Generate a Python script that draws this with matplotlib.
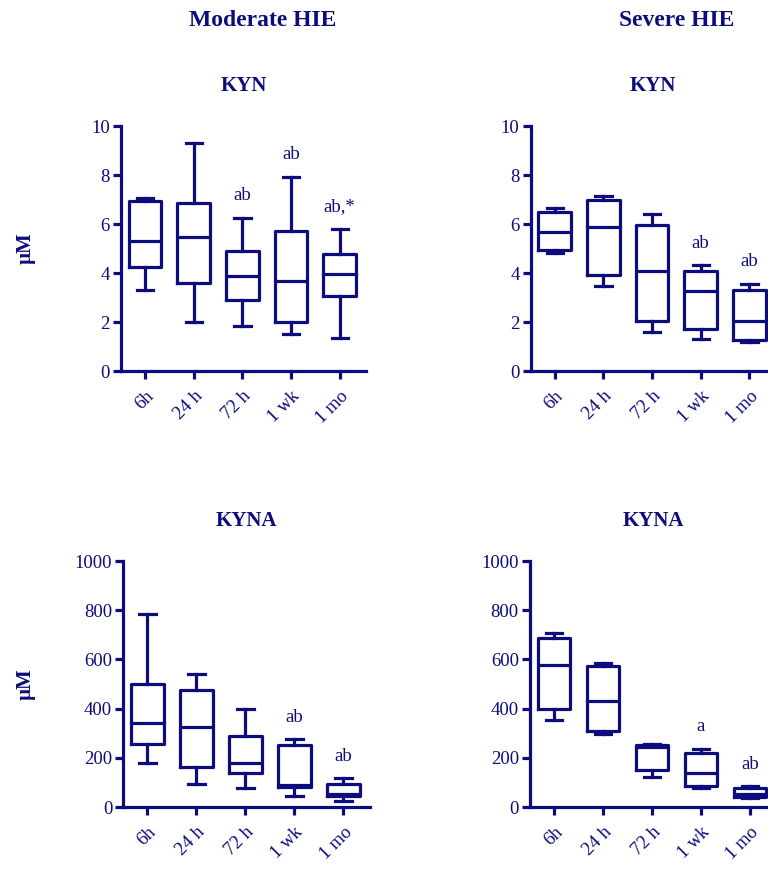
import matplotlib
matplotlib.use("Agg")
import matplotlib.pyplot as plt

plt.rcParams['font.family'] = ['Liberation Serif', 'DejaVu Serif']

NAVY = '#0c0c7c'

timepoints = ["6h", "24 h", "72 h", "1 wk", "1 mo"]

# KYN (µM), moderate HIE: min, Q1, median, Q3, max
kyn_mod_min = [3.29, 2.00, 1.82, 1.51, 1.33]
kyn_mod_q1 = [4.23, 3.61, 2.89, 2.01, 3.07]
kyn_mod_med = [5.30, 5.46, 3.87, 3.67, 3.98]
kyn_mod_q3 = [6.94, 6.85, 4.90, 5.72, 4.78]
kyn_mod_max = [7.08, 9.32, 6.26, 7.93, 5.80]
kyn_mod_sig = ["", "", "ab", "ab", "ab,*"]

# KYN (µM), severe HIE
kyn_sev_min = [4.80, 3.45, 1.58, 1.29, 1.18]
kyn_sev_q1 = [4.96, 3.91, 2.04, 1.73, 1.26]
kyn_sev_med = [5.69, 5.87, 4.10, 3.25, 2.04]
kyn_sev_q3 = [6.48, 6.97, 5.98, 4.09, 3.30]
kyn_sev_max = [6.67, 7.16, 6.40, 4.32, 3.55]
kyn_sev_sig = ["", "", "", "ab", "ab"]

# KYNA, moderate HIE
kyna_mod_min = [179, 93, 76, 43, 24]
kyna_mod_q1 = [257, 164, 138, 80, 45]
kyna_mod_med = [341, 324, 178, 88, 53]
kyna_mod_q3 = [501, 476, 289, 251, 92]
kyna_mod_max = [783, 539, 397, 275, 117]
kyna_mod_sig = ["", "", "", "ab", "ab"]

# KYNA, severe HIE
kyna_sev_min = [352, 298, 121, 79, 37]
kyna_sev_q1 = [398, 308, 150, 87, 39]
kyna_sev_med = [576, 430, 245, 137, 53]
kyna_sev_q3 = [686, 572, 254, 221, 76]
kyna_sev_max = [706, 585, 258, 238, 85]
kyna_sev_sig = ["", "", "", "a", "ab"]

W, H = 768, 872
fig = plt.figure(figsize=(W / 100, H / 100), dpi=100)

panels = [
    dict(rect=[0.1576, 0.5745, 0.319, 0.281], title="KYN", ymax=10, step=2,
         data=(kyn_mod_min, kyn_mod_q1, kyn_mod_med, kyn_mod_q3, kyn_mod_max),
         sig=kyn_mod_sig, ylabel=True),
    dict(rect=[0.691, 0.5745, 0.319, 0.281], title="KYN", ymax=10, step=2,
         data=(kyn_sev_min, kyn_sev_q1, kyn_sev_med, kyn_sev_q3, kyn_sev_max),
         sig=kyn_sev_sig, ylabel=False),
    dict(rect=[0.1605, 0.0745, 0.321, 0.282], title="KYNA", ymax=1000, step=200,
         data=(kyna_mod_min, kyna_mod_q1, kyna_mod_med, kyna_mod_q3, kyna_mod_max),
         sig=kyna_mod_sig, ylabel=True),
    dict(rect=[0.690, 0.0745, 0.321, 0.282], title="KYNA", ymax=1000, step=200,
         data=(kyna_sev_min, kyna_sev_q1, kyna_sev_med, kyna_sev_q3, kyna_sev_max),
         sig=kyna_sev_sig, ylabel=False),
]

lw = 2.3
positions = list(range(1, len(timepoints) + 1))

for p in panels:
    ax = fig.add_axes(p["rect"])
    mins, q1s, meds, q3s, maxs = p["data"]
    stats = [dict(whislo=lo, q1=a, med=m, q3=b, whishi=hi, fliers=[])
             for lo, a, m, b, hi in zip(mins, q1s, meds, q3s, maxs)]
    ax.bxp(stats, positions=positions, widths=0.67, showfliers=False,
           boxprops=dict(color=NAVY, linewidth=lw),
           whiskerprops=dict(color=NAVY, linewidth=lw),
           capprops=dict(color=NAVY, linewidth=lw),
           medianprops=dict(color=NAVY, linewidth=lw, solid_capstyle='butt'))

    ymax = p["ymax"]
    ax.set_ylim(0, ymax)
    ax.set_xlim(0.507, 5.54)
    ax.set_yticks(range(0, ymax + 1, p["step"]))
    ax.set_xticks(positions)
    ax.set_xticklabels(timepoints, rotation=45, ha='right', va='top',
                       rotation_mode='anchor', fontsize=13.5, color=NAVY)
    ax.tick_params(axis='x', length=6, width=lw, color=NAVY, pad=6)
    ax.tick_params(axis='y', length=5.5, width=lw, color=NAVY, pad=2.5,
                   labelsize=13.5, labelcolor=NAVY)
    for side in ("top", "right"):
        ax.spines[side].set_visible(False)
    for side in ("left", "bottom"):
        ax.spines[side].set_color(NAVY)
        ax.spines[side].set_linewidth(lw)

    for x, hi, s in zip(positions, maxs, p["sig"]):
        if s:
            ax.text(x, hi + 0.09 * ymax, s, ha='center', va='center',
                    fontsize=13.5, color=NAVY)

    ax.set_title(p["title"], fontsize=15, fontweight='bold', color=NAVY, pad=25.5)
    if p["ylabel"]:
        x0, y0, w, h = p["rect"]
        fig.text(26 / W, y0 + h / 2, "µM", rotation=90, ha='center', va='center',
                 fontsize=15, fontweight='bold', color=NAVY)

fig.text(263 / W, 1 - 21 / H, "Moderate HIE", ha='center', va='center',
         fontsize=17, fontweight='bold', color=NAVY)
fig.text(677 / W, 1 - 21 / H, "Severe HIE", ha='center', va='center',
         fontsize=17, fontweight='bold', color=NAVY)

fig.savefig("out.png", dpi=100)
